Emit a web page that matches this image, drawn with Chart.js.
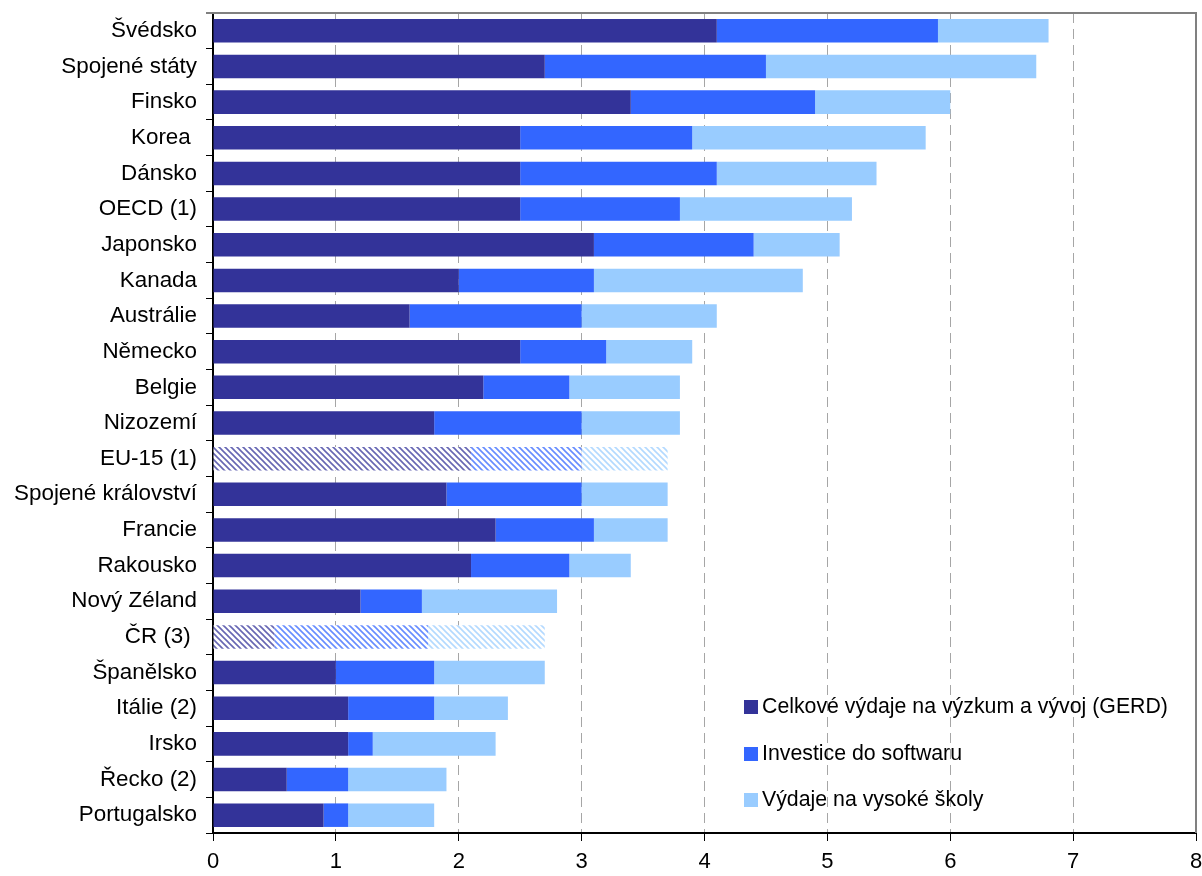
<!DOCTYPE html>
<html>
<head>
<meta charset="utf-8">
<script src="https://cdn.jsdelivr.net/npm/chart.js@4.4.1/dist/chart.umd.min.js"></script>
<style>
  body { margin: 0; background: #fff; }
  #wrap { position: relative; width: 1202px; height: 876px; }
  #legend { position: absolute; left: 744px; top: 690px; font-family: "Liberation Sans", Arial, sans-serif; font-size: 21.3px; color: #000; }
  #legend div { height: 46.5px; line-height: 32px; white-space: nowrap; }
  #legend span { display: inline-block; width: 14px; height: 14px; margin-right: 4px; vertical-align: -1px; }
</style>
</head>
<body>
<div id="wrap">
<canvas id="myChart" width="1202" height="876"></canvas>
<div id="legend"></div>
</div>
<script>
var countries = ['Švédsko', 'Spojené státy', 'Finsko', 'Korea ', 'Dánsko', 'OECD (1)', 'Japonsko', 'Kanada',
  'Austrálie', 'Německo', 'Belgie', 'Nizozemí', 'EU-15 (1)', 'Spojené království', 'Francie', 'Rakousko',
  'Nový Zéland', 'ČR (3) ', 'Španělsko', 'Itálie (2)', 'Irsko', 'Řecko (2)', 'Portugalsko'];

// výdaje v % HDP
var gerd     = [4.1, 2.7, 3.4, 2.5, 2.5, 2.5, 3.1, 2.0, 1.6, 2.5, 2.2, 1.8, 2.1, 1.9, 2.3, 2.1, 1.2, 0.5, 1.0, 1.1, 1.1, 0.6, 0.9];
var software = [1.8, 1.8, 1.5, 1.4, 1.6, 1.3, 1.3, 1.1, 1.4, 0.7, 0.7, 1.2, 0.9, 1.1, 0.8, 0.8, 0.5, 1.25, 0.8, 0.7, 0.2, 0.5, 0.2];
var skoly    = [0.9, 2.2, 1.1, 1.9, 1.3, 1.4, 0.7, 1.7, 1.1, 0.7, 0.9, 0.8, 0.7, 0.7, 0.6, 0.5, 1.1, 0.95, 0.9, 0.6, 1.0, 0.8, 0.7];

var seriesNames = ['Celkové výdaje na výzkum a vývoj (GERD)', 'Investice do softwaru', 'Výdaje na vysoké školy'];
var colors = ['#333399', '#3366FF', '#99CCFF'];
var hatched = ['EU-15 (1)', 'ČR (3) '];
var xTicks = [0, 1, 2, 3, 4, 5, 6, 7, 8];

function makeHatch(color) {
    var c = document.createElement('canvas');
    c.width = 6; c.height = 6;
    var g = c.getContext('2d');
    g.fillStyle = '#fff';
    g.fillRect(0, 0, 6, 6);
    g.strokeStyle = color;
    g.globalAlpha = 0.75;
    g.lineWidth = 1.6;
    g.beginPath();
    g.moveTo(-1, -1); g.lineTo(7, 7);
    g.moveTo(-4, 2); g.lineTo(4, 10);
    g.moveTo(2, -4); g.lineTo(10, 4);
    g.stroke();
    return document.getElementById('myChart').getContext('2d').createPattern(c, 'repeat');
}

var patterns = colors.map(makeHatch);

function fillFor(i) {
    return function(ctx) {
        return hatched.indexOf(countries[ctx.dataIndex]) >= 0 ? patterns[i] : colors[i];
    };
}

var plotFrame = {
    id: 'plotFrame',
    afterDraw: function(chart) {
        var a = chart.chartArea, c = chart.ctx;
        c.save();
        c.strokeStyle = '#808080';
        c.lineWidth = 2;
        c.beginPath();
        c.moveTo(a.left - 7, a.top);
        c.lineTo(a.right, a.top);
        c.lineTo(a.right, a.bottom);
        c.stroke();
        c.restore();
    }
};

var legendEl = document.getElementById('legend');
seriesNames.forEach(function(n, i) {
    var d = document.createElement('div');
    d.innerHTML = '<span style="background:' + colors[i] + '"></span>' + n;
    legendEl.appendChild(d);
});

var ctx = document.getElementById('myChart').getContext('2d');
var myChart = new Chart(ctx, {
    type: 'bar',
    data: {
        labels: countries,
        datasets: [
            { label: seriesNames[0], data: gerd, backgroundColor: fillFor(0) },
            { label: seriesNames[1], data: software, backgroundColor: fillFor(1) },
            { label: seriesNames[2], data: skoly, backgroundColor: fillFor(2) }
        ]
    },
    options: {
        indexAxis: 'y',
        responsive: false,
        animation: false,
        layout: { padding: { top: 13, right: 6, left: 0, bottom: 0 } },
        datasets: { bar: { categoryPercentage: 1, barPercentage: 0.66 } },
        plugins: { legend: { display: false }, tooltip: { enabled: false } },
        scales: {
            x: {
                stacked: true,
                min: 0, max: 8,
                afterBuildTicks: function(s) { s.ticks = xTicks.map(function(v) { return { value: v }; }); },
                afterFit: function(s) { s.height = 43; s.paddingLeft = 0; s.paddingRight = 0; },
                grid: {
                    color: function(c) { return (c.tick && (c.tick.value === 0 || c.tick.value === 8)) ? 'rgba(0,0,0,0)' : '#a6a6a6'; },
                    tickColor: '#000',
                    tickLength: 8,
                    lineWidth: 1
                },
                border: { color: '#000', width: 2, dash: [10, 6] },
                ticks: { color: '#000', padding: 8, font: { family: 'Liberation Sans', size: 22 } }
            },
            y: {
                stacked: true,
                afterFit: function(s) { s.width = 213; s.paddingTop = 0; s.paddingBottom = 0; },
                grid: { drawOnChartArea: false, color: '#000', tickLength: 7 },
                border: { color: '#000', width: 2 },
                ticks: { color: '#000', padding: 9, autoSkip: false, font: { family: 'Liberation Sans', size: 22.4 } }
            }
        }
    },
    plugins: [plotFrame]
});
</script>
</body>
</html>
